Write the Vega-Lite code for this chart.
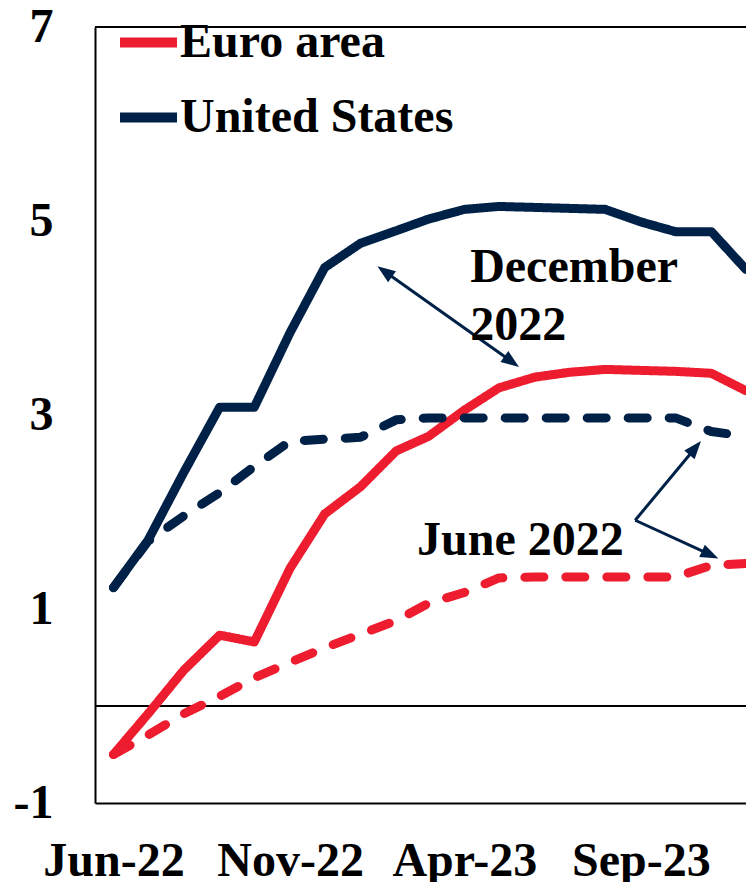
{
  "$schema": "https://vega.github.io/schema/vega-lite/v6.json",
  "width": 651,
  "height": 776,
  "autosize": {"type": "none"},
  "padding": {"left": 95, "top": 27, "right": 0, "bottom": 79},
  "config": {
    "view": {"stroke": null},
    "font": "Liberation Serif",
    "axis": {
      "labelFont": "Liberation Serif",
      "labelFontSize": 48,
      "labelFontWeight": "bold",
      "labelColor": "#000000",
      "labelLimit": 0,
      "domainColor": "#000000",
      "domainWidth": 2,
      "ticks": false,
      "grid": false,
      "title": null
    },
    "legend": {
      "labelFont": "Liberation Serif",
      "labelFontSize": 48,
      "labelFontWeight": "bold",
      "labelColor": "#000000",
      "labelLimit": 0
    }
  },
  "datasets": {
    "forecasts": [
      {"date": "2022-06-01", "series": "Euro area", "vintage": "December 2022", "value": -0.50},
      {"date": "2022-07-01", "series": "Euro area", "vintage": "December 2022", "value": -0.08},
      {"date": "2022-08-01", "series": "Euro area", "vintage": "December 2022", "value": 0.37},
      {"date": "2022-09-01", "series": "Euro area", "vintage": "December 2022", "value": 0.73},
      {"date": "2022-10-01", "series": "Euro area", "vintage": "December 2022", "value": 0.66},
      {"date": "2022-11-01", "series": "Euro area", "vintage": "December 2022", "value": 1.42},
      {"date": "2022-12-01", "series": "Euro area", "vintage": "December 2022", "value": 1.98},
      {"date": "2023-01-01", "series": "Euro area", "vintage": "December 2022", "value": 2.26},
      {"date": "2023-02-01", "series": "Euro area", "vintage": "December 2022", "value": 2.63},
      {"date": "2023-03-01", "series": "Euro area", "vintage": "December 2022", "value": 2.78},
      {"date": "2023-04-01", "series": "Euro area", "vintage": "December 2022", "value": 3.05},
      {"date": "2023-05-01", "series": "Euro area", "vintage": "December 2022", "value": 3.28},
      {"date": "2023-06-01", "series": "Euro area", "vintage": "December 2022", "value": 3.39},
      {"date": "2023-07-01", "series": "Euro area", "vintage": "December 2022", "value": 3.44},
      {"date": "2023-08-01", "series": "Euro area", "vintage": "December 2022", "value": 3.47},
      {"date": "2023-09-01", "series": "Euro area", "vintage": "December 2022", "value": 3.46},
      {"date": "2023-10-01", "series": "Euro area", "vintage": "December 2022", "value": 3.45},
      {"date": "2023-11-01", "series": "Euro area", "vintage": "December 2022", "value": 3.43},
      {"date": "2023-12-01", "series": "Euro area", "vintage": "December 2022", "value": 3.25},

      {"date": "2022-06-01", "series": "Euro area", "vintage": "June 2022", "value": -0.50},
      {"date": "2022-07-01", "series": "Euro area", "vintage": "June 2022", "value": -0.30},
      {"date": "2022-08-01", "series": "Euro area", "vintage": "June 2022", "value": -0.08},
      {"date": "2022-09-01", "series": "Euro area", "vintage": "June 2022", "value": 0.10},
      {"date": "2022-10-01", "series": "Euro area", "vintage": "June 2022", "value": 0.29},
      {"date": "2022-11-01", "series": "Euro area", "vintage": "June 2022", "value": 0.45},
      {"date": "2022-12-01", "series": "Euro area", "vintage": "June 2022", "value": 0.60},
      {"date": "2023-01-01", "series": "Euro area", "vintage": "June 2022", "value": 0.74},
      {"date": "2023-02-01", "series": "Euro area", "vintage": "June 2022", "value": 0.88},
      {"date": "2023-03-01", "series": "Euro area", "vintage": "June 2022", "value": 1.06},
      {"date": "2023-04-01", "series": "Euro area", "vintage": "June 2022", "value": 1.17},
      {"date": "2023-05-01", "series": "Euro area", "vintage": "June 2022", "value": 1.32},
      {"date": "2023-06-01", "series": "Euro area", "vintage": "June 2022", "value": 1.33},
      {"date": "2023-07-01", "series": "Euro area", "vintage": "June 2022", "value": 1.33},
      {"date": "2023-08-01", "series": "Euro area", "vintage": "June 2022", "value": 1.33},
      {"date": "2023-09-01", "series": "Euro area", "vintage": "June 2022", "value": 1.33},
      {"date": "2023-10-01", "series": "Euro area", "vintage": "June 2022", "value": 1.33},
      {"date": "2023-11-01", "series": "Euro area", "vintage": "June 2022", "value": 1.45},
      {"date": "2023-12-01", "series": "Euro area", "vintage": "June 2022", "value": 1.47},

      {"date": "2022-06-01", "series": "United States", "vintage": "December 2022", "value": 1.22},
      {"date": "2022-07-01", "series": "United States", "vintage": "December 2022", "value": 1.71},
      {"date": "2022-08-01", "series": "United States", "vintage": "December 2022", "value": 2.41},
      {"date": "2022-09-01", "series": "United States", "vintage": "December 2022", "value": 3.08},
      {"date": "2022-10-01", "series": "United States", "vintage": "December 2022", "value": 3.08},
      {"date": "2022-11-01", "series": "United States", "vintage": "December 2022", "value": 3.85},
      {"date": "2022-12-01", "series": "United States", "vintage": "December 2022", "value": 4.52},
      {"date": "2023-01-01", "series": "United States", "vintage": "December 2022", "value": 4.77},
      {"date": "2023-02-01", "series": "United States", "vintage": "December 2022", "value": 4.90},
      {"date": "2023-03-01", "series": "United States", "vintage": "December 2022", "value": 5.02},
      {"date": "2023-04-01", "series": "United States", "vintage": "December 2022", "value": 5.12},
      {"date": "2023-05-01", "series": "United States", "vintage": "December 2022", "value": 5.15},
      {"date": "2023-06-01", "series": "United States", "vintage": "December 2022", "value": 5.14},
      {"date": "2023-07-01", "series": "United States", "vintage": "December 2022", "value": 5.13},
      {"date": "2023-08-01", "series": "United States", "vintage": "December 2022", "value": 5.12},
      {"date": "2023-09-01", "series": "United States", "vintage": "December 2022", "value": 4.99},
      {"date": "2023-10-01", "series": "United States", "vintage": "December 2022", "value": 4.89},
      {"date": "2023-11-01", "series": "United States", "vintage": "December 2022", "value": 4.89},
      {"date": "2023-12-01", "series": "United States", "vintage": "December 2022", "value": 4.50},

      {"date": "2022-06-01", "series": "United States", "vintage": "June 2022", "value": 1.22},
      {"date": "2022-07-01", "series": "United States", "vintage": "June 2022", "value": 1.70},
      {"date": "2022-08-01", "series": "United States", "vintage": "June 2022", "value": 1.96},
      {"date": "2022-09-01", "series": "United States", "vintage": "June 2022", "value": 2.20},
      {"date": "2022-10-01", "series": "United States", "vintage": "June 2022", "value": 2.47},
      {"date": "2022-11-01", "series": "United States", "vintage": "June 2022", "value": 2.73},
      {"date": "2022-12-01", "series": "United States", "vintage": "June 2022", "value": 2.75},
      {"date": "2023-01-01", "series": "United States", "vintage": "June 2022", "value": 2.77},
      {"date": "2023-02-01", "series": "United States", "vintage": "June 2022", "value": 2.95},
      {"date": "2023-03-01", "series": "United States", "vintage": "June 2022", "value": 2.97},
      {"date": "2023-04-01", "series": "United States", "vintage": "June 2022", "value": 2.97},
      {"date": "2023-05-01", "series": "United States", "vintage": "June 2022", "value": 2.97},
      {"date": "2023-06-01", "series": "United States", "vintage": "June 2022", "value": 2.97},
      {"date": "2023-07-01", "series": "United States", "vintage": "June 2022", "value": 2.97},
      {"date": "2023-08-01", "series": "United States", "vintage": "June 2022", "value": 2.97},
      {"date": "2023-09-01", "series": "United States", "vintage": "June 2022", "value": 2.97},
      {"date": "2023-10-01", "series": "United States", "vintage": "June 2022", "value": 2.97},
      {"date": "2023-11-01", "series": "United States", "vintage": "June 2022", "value": 2.83},
      {"date": "2023-12-01", "series": "United States", "vintage": "June 2022", "value": 2.78}
    ],
    "arrows": [
      {"from": "2023-01-22", "fromValue": 4.48, "to": "2023-05-12", "toValue": 3.55},
      {"from": "2023-08-27", "fromValue": 1.915, "to": "2023-10-18", "toValue": 2.66},
      {"from": "2023-08-27", "fromValue": 1.915, "to": "2023-10-31", "toValue": 1.56}
    ],
    "notes": [
      {"date": "2023-04-06", "value": 4.37, "note": "December\n2022"},
      {"date": "2023-02-19", "value": 1.554, "note": "June 2022"}
    ]
  },
  "layer": [
    {
      "data": {"values": [{"level": 7}, {"level": 0}]},
      "mark": {"type": "rule", "color": "#000000", "strokeWidth": 2},
      "encoding": {"y": {"field": "level", "type": "quantitative"}}
    },
    {
      "encoding": {
        "x": {
          "field": "date",
          "type": "temporal",
          "scale": {
            "type": "utc",
            "domain": [
              {"year": 2022, "month": 5, "date": 16, "utc": true},
              {"year": 2023, "month": 12, "date": 1, "utc": true}
            ]
          },
          "axis": {
            "values": [
              {"year": 2022, "month": 6, "date": 1, "utc": true},
              {"year": 2022, "month": 11, "date": 1, "utc": true},
              {"year": 2023, "month": 4, "date": 1, "utc": true},
              {"year": 2023, "month": 9, "date": 1, "utc": true}
            ],
            "labelExpr": "utcFormat(datum.value, '%b-%y')",
            "labelPadding": 34,
            "labelFlush": false,
            "labelOverlap": false
          }
        },
        "y": {
          "field": "value",
          "type": "quantitative",
          "scale": {"domain": [-1, 7], "nice": false, "zero": false},
          "axis": {
            "values": [-1, 1, 3, 5, 7],
            "labelExpr": "datum.value < 0 ? '-' + (-datum.value) : '' + datum.value",
            "labelPadding": 42
          }
        }
      },
      "layer": [
        {
          "data": {"name": "forecasts"},
          "mark": {"type": "line", "strokeWidth": 9, "strokeCap": "round", "strokeJoin": "round", "clip": true},
          "encoding": {
            "color": {
              "field": "series",
              "type": "nominal",
              "scale": {"domain": ["Euro area", "United States"], "range": ["#ED1C2E", "#002147"]},
              "legend": {
                "orient": "none",
                "legendX": 20,
                "legendY": -18,
                "title": null,
                "symbolType": "stroke",
                "symbolSize": 3249,
                "symbolStrokeWidth": 10,
                "labelOffset": -2,
                "rowPadding": 17,
                "padding": 0
              }
            },
            "strokeDash": {
              "field": "vintage",
              "type": "nominal",
              "scale": {"domain": ["December 2022", "June 2022"], "range": [[1, 0], [19, 22]]},
              "legend": null
            },
            "detail": {"field": "vintage"},
            "order": {"field": "date", "type": "temporal"}
          }
        },
        {
          "data": {"name": "arrows"},
          "mark": {"type": "rule", "color": "#002147", "strokeWidth": 3},
          "encoding": {
            "x": {"field": "from", "type": "temporal"},
            "x2": {"field": "to"},
            "y": {"field": "fromValue", "type": "quantitative"},
            "y2": {"field": "toValue"}
          }
        },
        {
          "data": {"values": [{"date": "2023-01-22", "value": 4.48}]},
          "mark": {"type": "point", "shape": "M0,-1L-0.75,1L0.75,1Z", "size": 324, "filled": true, "opacity": 1, "color": "#002147", "angle": 305.6}
        },
        {
          "data": {"values": [{"date": "2023-05-12", "value": 3.55}]},
          "mark": {"type": "point", "shape": "M0,-1L-0.75,1L0.75,1Z", "size": 324, "filled": true, "opacity": 1, "color": "#002147", "angle": 125.6}
        },
        {
          "data": {"values": [{"date": "2023-10-18", "value": 2.66}]},
          "mark": {"type": "point", "shape": "M0,-1L-0.75,1L0.75,1Z", "size": 324, "filled": true, "opacity": 1, "color": "#002147", "angle": 39.9}
        },
        {
          "data": {"values": [{"date": "2023-10-31", "value": 1.56}]},
          "mark": {"type": "point", "shape": "M0,-1L-0.75,1L0.75,1Z", "size": 324, "filled": true, "opacity": 1, "color": "#002147", "angle": 114.6}
        },
        {
          "data": {"name": "notes"},
          "mark": {
            "type": "text",
            "align": "left",
            "baseline": "alphabetic",
            "font": "Liberation Serif",
            "fontSize": 48,
            "fontWeight": "bold",
            "color": "#000000",
            "lineBreak": "\n",
            "lineHeight": 58
          },
          "encoding": {"text": {"field": "note"}}
        }
      ]
    }
  ]
}
